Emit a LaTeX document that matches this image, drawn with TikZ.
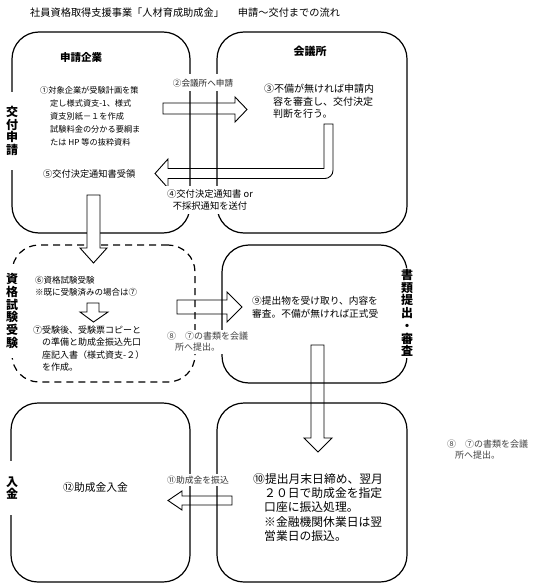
\documentclass[tikz,border=0pt]{standalone}
\usepackage{fontspec}
\setmainfont{Noto Sans CJK JP}
\begin{document}
\begin{tikzpicture}[x=1pt,y=-1pt,
  box/.style={draw,line width=1.2pt,rounded corners=27pt,inner sep=0pt},
  dbox/.style={box,dash pattern=on 7pt off 5pt},
  barrow/.style={draw,line width=0.9pt,fill=white,line join=miter},
  vlab/.style={fill=white,inner sep=0pt,align=center,minimum width=22pt,
    font=\fontsize{12}{12.7}\selectfont\bfseries},
  txt/.style={inner sep=0pt,align=left,anchor=north west},
  lab/.style={fill=white,inner sep=2pt}
]
\useasboundingbox (0,0) rectangle (544,585);
% title
\node[anchor=west,inner sep=0pt,font=\fontsize{10.2}{12}\selectfont] (title) at (30,13)
  {社員資格取得支援事業「人材育成助成金」\hspace{14pt}申請～交付までの流れ};
% block arrows under the boxes
\draw[barrow] (163,103) -- (235,103) -- (235,97) -- (247,109.5) -- (235,122) -- (235,114) -- (163,114) -- cycle;
\draw[barrow] (324,124) -- (333,124) -- (333,170.5) .. controls (333,175) and (329,178.5) .. (325,178.5)
  -- (168,178.5) -- (168,188) -- (155,173.5) -- (168,159) -- (168,168.5) -- (324,168.5) -- cycle;
\draw[barrow] (177,300) -- (227,300) -- (227,292) -- (242,307) -- (227,322) -- (227,314) -- (177,314) -- cycle;
\draw[barrow] (311,345) -- (324,345) -- (324,438) -- (332,438) -- (318,452) -- (304,438) -- (311,438) -- cycle;
\draw[barrow] (232,496) -- (182,496) -- (182,491) -- (168,500.5) -- (182,510) -- (182,505) -- (232,505) -- cycle;
% boxes
\node[box,minimum width=178pt,minimum height=201pt] (b1) at (101,132.5) {};
\node[box,minimum width=190pt,minimum height=201pt] (b2) at (312,132.5) {};
\node[dbox,minimum width=183pt,minimum height=137pt] (b3) at (103.5,313.5) {};
\node[box,minimum width=185pt,minimum height=138pt] (b4) at (314.5,314) {};
\node[box,minimum width=179pt,minimum height=179pt] (b5) at (100.5,492.5) {};
\node[box,minimum width=190pt,minimum height=179pt] (b6) at (312,492.5) {};
% arrows over the boxes
\draw[barrow] (87,195) -- (100,195) -- (100,248) -- (107,248) -- (93.5,263) -- (80,248) -- (87,248) -- cycle;
\draw[barrow] (87,303) -- (99,303) -- (99,312) -- (108,312) -- (93.5,322) -- (80,312) -- (87,312) -- cycle;
% side labels
\node[vlab,minimum height=78pt] (v1) at (12,131) {交\\付\\申\\請};
\node[vlab,minimum height=94pt] (v2) at (12,311) {資\\格\\試\\験\\受\\験};
\node[vlab,minimum height=90pt] (v3) at (407,313) {書\\類\\提\\出\\・\\審\\査};
\node[vlab,minimum height=54pt] (v4) at (12,488) {入\\金};
% box 1
\node[inner sep=0pt,font=\fontsize{10.5}{12}\selectfont\bfseries] (h1) at (81,57) {申請企業};
\node[txt,font=\fontsize{8.2}{13}\selectfont] (t1) at (40,85.9)
  {①対象企業が受験計画を策\\
   \hspace*{10pt}定し様式資支-1、様式\\
   \hspace*{10pt}資支別紙－１を作成\\
   \hspace*{10pt}試験料金の分かる要綱ま\\
   \hspace*{10pt}たは HP 等の抜粋資料};
\node[anchor=west,inner sep=0pt,font=\fontsize{9.2}{11}\selectfont] (t5) at (43,174) {⑤交付決定通知書受領};
% box 2
\node[inner sep=0pt,font=\fontsize{11}{12}\selectfont\bfseries] (h2) at (310,51) {会議所};
\node[txt,font=\fontsize{10}{12.5}\selectfont] (t3) at (264,84)
  {③不備が無ければ申請内\\
   \hspace*{9pt}容を審査し、交付決定\\
   \hspace*{9pt}判断を行う。};
% arrow labels
\node[lab,minimum height=17pt,font=\fontsize{8.6}{10}\selectfont,text=black!85] (l2) at (203,83) {②会議所へ申請};
\node[lab,align=center,minimum height=27pt,font=\fontsize{9.3}{12}\selectfont] (l4) at (210,200)
  {④交付決定通知書 or\\不採択通知を送付};
% box 3
\node[txt,font=\fontsize{8.5}{12}\selectfont] (t6) at (35,275.8)
  {⑥資格試験受験\\※既に受験済みの場合は⑦};
\node[txt,font=\fontsize{9}{12.5}\selectfont] (t7) at (33,325.5)
  {⑦受験後、受験票コピーと\\
   \hspace*{9pt}の準備と助成金振込先口\\
   \hspace*{9pt}座記入書（様式資支-２）\\
   \hspace*{9pt}を作成。};
\node[lab,anchor=north west,align=left,font=\fontsize{9}{11.5}\selectfont,text=black!75] (l8) at (165,329.5)
  {⑧\hspace{9pt}⑦の書類を会議\\\hspace*{8pt}所へ提出。};
% box 4
\node[txt,font=\fontsize{9.7}{13}\selectfont] (t9) at (252,296.2)
  {⑨提出物を受け取り、内容を\\審査。不備が無ければ正式受};
% box 6
\node[txt,font=\fontsize{11.8}{14.3}\selectfont] (t10) at (253,473.1)
  {⑩提出月末日締め、翌月\\
   \hspace*{11pt}２０日で助成金を指定\\
   \hspace*{11pt}口座に振込処理。\\
   \hspace*{11pt}※金融機関休業日は翌\\
   \hspace*{11pt}営業日の振込。};
% box 5
\node[anchor=west,inner sep=0pt,font=\fontsize{10.8}{12}\selectfont] (t12) at (63,487) {⑫助成金入金};
\node[lab,font=\fontsize{8.8}{10}\selectfont,text=black!80] (l11) at (198,480) {⑪助成金を振込};
% stray note at right
\node[txt,font=\fontsize{9}{11.5}\selectfont,text=black!75] (n8) at (447,439.5)
  {⑧\hspace{9pt}⑦の書類を会議\\\hspace*{8pt}所へ提出。};
\end{tikzpicture}
\end{document}
